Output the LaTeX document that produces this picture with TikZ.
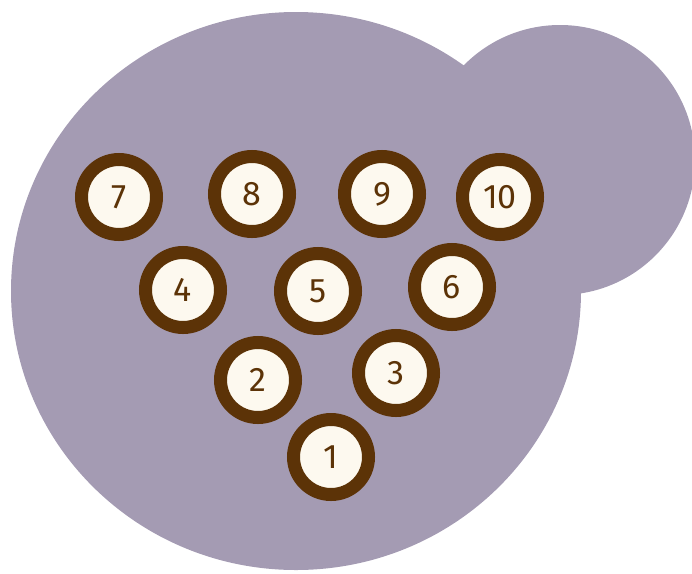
\documentclass[tikz,border=0pt]{standalone}
\usepackage{fontspec}
\setmainfont{Fira Sans}
\definecolor{blob}{HTML}{A49BB3}
\definecolor{pinbrown}{HTML}{5C3307}
\definecolor{pincream}{HTML}{FDF9EF}
\begin{document}
\begin{tikzpicture}[x=1pt,y=-1pt,
  pinball/.style={circle,fill=pincream,draw=pinbrown,line width=13pt,
    minimum size=75pt,inner sep=0pt,text=pinbrown,
    font=\fontsize{34}{34}\selectfont}]
\useasboundingbox (0,0) rectangle (692,573);
% background blob
\fill[blob] (296,291) ellipse [x radius=285pt, y radius=279pt];
\fill[blob] (560,160) circle [radius=135pt];
% pins
\node[pinball] (p7)  at (119,197) {7};
\node[pinball] (p8)  at (252,194) {8};
\node[pinball] (p9)  at (382,194) {9};
\node[pinball] (p10) at (500,197) {10};
\node[pinball] (p4)  at (183,290) {4};
\node[pinball] (p5)  at (318,291) {5};
\node[pinball] (p6)  at (452,287) {6};
\node[pinball] (p2)  at (258,380) {2};
\node[pinball] (p3)  at (396,373) {3};
\node[pinball] (p1)  at (331,457) {1};
\end{tikzpicture}
\end{document}
